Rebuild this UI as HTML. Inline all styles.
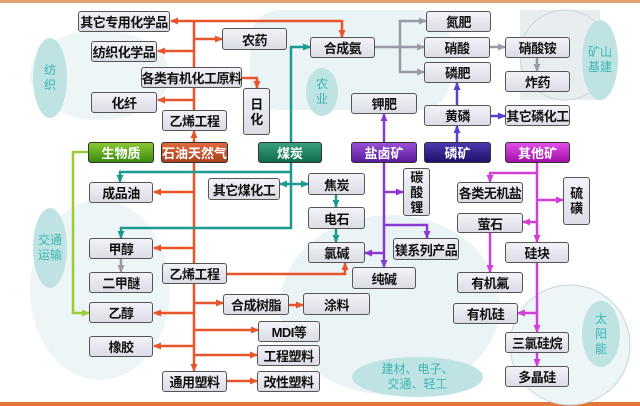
<!DOCTYPE html>
<html><head><meta charset="utf-8"><style>
body{margin:0;width:640px;height:406px;overflow:hidden;background:#fff;font-family:"Liberation Sans","Noto Sans CJK SC",sans-serif;position:relative}
.b{position:absolute;box-sizing:border-box;background:linear-gradient(#f2f2f8,#dcdce6);border:1.5px solid #555;border-radius:3px;font-weight:bold;font-size:13px;color:#111;display:flex;align-items:center;justify-content:center;white-space:nowrap;letter-spacing:-0.5px;z-index:2}
.v{flex-direction:column;line-height:15px}
.c{position:absolute;box-sizing:border-box;border:1.5px solid #333;border-radius:3px;color:#fff;font-weight:bold;font-size:13px;display:flex;align-items:center;justify-content:center;z-index:2}
.e{position:absolute;border-radius:50%;background:#bfe3e3;color:#3cb4b4;font-size:12px;display:flex;align-items:center;justify-content:center;text-align:center;line-height:15px;z-index:1}
svg{position:absolute;left:0;top:0;z-index:1}
</style></head><body>
<svg width="640" height="406">
<defs>
<marker id="o" markerUnits="userSpaceOnUse" markerWidth="8" markerHeight="8" refX="7" refY="4" orient="auto"><path d="M0,0.5L8,4L0,7.5z" fill="#e8552a"/></marker>
<marker id="t" markerUnits="userSpaceOnUse" markerWidth="8" markerHeight="8" refX="7" refY="4" orient="auto"><path d="M0,0.5L8,4L0,7.5z" fill="#1a9a90"/></marker>
<marker id="g" markerUnits="userSpaceOnUse" markerWidth="8" markerHeight="8" refX="7" refY="4" orient="auto"><path d="M0,0.5L8,4L0,7.5z" fill="#9a9aa8"/></marker>
<marker id="p" markerUnits="userSpaceOnUse" markerWidth="8" markerHeight="8" refX="7" refY="4" orient="auto"><path d="M0,0.5L8,4L0,7.5z" fill="#8a3ad0"/></marker>
<marker id="b" markerUnits="userSpaceOnUse" markerWidth="8" markerHeight="8" refX="7" refY="4" orient="auto"><path d="M0,0.5L8,4L0,7.5z" fill="#5a40d0"/></marker>
<marker id="m" markerUnits="userSpaceOnUse" markerWidth="8" markerHeight="8" refX="7" refY="4" orient="auto"><path d="M0,0.5L8,4L0,7.5z" fill="#d040d8"/></marker>
<marker id="l" markerUnits="userSpaceOnUse" markerWidth="8" markerHeight="8" refX="7" refY="4" orient="auto"><path d="M0,0.5L8,4L0,7.5z" fill="#9acd32"/></marker>
</defs>
<rect x="0" y="0" width="640" height="3" fill="#e0a070"/>
<rect x="0" y="402" width="640" height="4" fill="#e07838"/>
<ellipse cx="100" cy="75" rx="70" ry="45" fill="#eef5f6"/>
<rect x="250" y="10" width="200" height="100" rx="30" fill="#eaf3f5"/>
<rect x="520" y="10" width="80" height="90" fill="#e8eef0"/>
<circle cx="565" cy="55" r="45" fill="none" stroke="#c8d4d8"/>
<ellipse cx="100" cy="290" rx="70" ry="90" fill="#eef5f6"/>
<ellipse cx="390" cy="305" rx="110" ry="90" fill="#eaf4f6"/>
<circle cx="570" cy="345" r="60" fill="#eef5f6" stroke="#c8d4d8"/>
<g stroke="#e8552a" stroke-width="2.5" fill="none">
<path d="M194 142V131" marker-end="url(#o)"/>
<path d="M194 110V21"/>
<path d="M194 21H171" marker-end="url(#o)"/>
<path d="M194 21H342V37" marker-end="url(#o)"/>
<path d="M194 39H222" marker-end="url(#o)"/>
<path d="M194 51H158" marker-end="url(#o)"/>
<path d="M194 100H158" marker-end="url(#o)"/>
<path d="M242 78H257V88" marker-end="url(#o)"/>
<path d="M194 163V371" marker-end="url(#o)"/>
<path d="M194 192H154" marker-end="url(#o)"/>
<path d="M194 248H154" marker-end="url(#o)"/>
<path d="M227 274H345V263" marker-end="url(#o)"/>
<path d="M194 303H223" marker-end="url(#o)"/>
<path d="M289 305H303" marker-end="url(#o)"/>
<path d="M194 313H154" marker-end="url(#o)"/>
<path d="M194 330H258" marker-end="url(#o)"/>
<path d="M194 346H154" marker-end="url(#o)"/>
<path d="M194 355H257" marker-end="url(#o)"/>
<path d="M227 381H257" marker-end="url(#o)"/>
</g>
<g stroke="#1a9a90" stroke-width="2.5" fill="none">
<path d="M291 142V47H310" marker-end="url(#t)"/>
<path d="M291 163V228H121V238" marker-end="url(#t)"/>
<path d="M291 172H120V182" marker-end="url(#t)"/>
<path d="M291 184H308" marker-end="url(#t)"/>
<path d="M291 184H280" marker-end="url(#t)"/>
<path d="M336 195V207" marker-end="url(#t)"/>
<path d="M336 229V242" marker-end="url(#t)"/>
</g>
<path d="M88 152H73V313H89" stroke="#9acd32" stroke-width="2.5" fill="none" marker-end="url(#l)"/>
<g stroke="#9a9aa8" stroke-width="2.5" fill="none">
<path d="M375 47H424" marker-end="url(#g)"/>
<path d="M400 47V21H426" marker-end="url(#g)"/>
<path d="M400 47V72H424" marker-end="url(#g)"/>
<path d="M490 47H505" marker-end="url(#g)"/>
<path d="M537 58V71" marker-end="url(#g)"/>
<path d="M121 259V272" marker-end="url(#g)"/>
</g>
<g stroke="#8a3ad0" stroke-width="2.5" fill="none">
<path d="M384 142V114" marker-end="url(#p)"/>
<path d="M384 163V267" marker-end="url(#p)"/>
<path d="M384 192H403" marker-end="url(#p)"/>
<path d="M384 225H427V238" marker-end="url(#p)"/>
<path d="M384 253H365" marker-end="url(#p)"/>
</g>
<g stroke="#5a40d0" stroke-width="2.5" fill="none">
<path d="M457 142V126" marker-end="url(#b)"/>
<path d="M457 105V83" marker-end="url(#b)"/>
<path d="M491 116H505" marker-end="url(#b)"/>
</g>
<g stroke="#d040d8" stroke-width="2.5" fill="none">
<path d="M537 163V242" marker-end="url(#m)"/>
<path d="M537 173H490V182" marker-end="url(#m)"/>
<path d="M537 200H563" marker-end="url(#m)"/>
<path d="M537 222H523" marker-end="url(#m)"/>
<path d="M490 233V272" marker-end="url(#m)"/>
<path d="M537 263V332" marker-end="url(#m)"/>
<path d="M537 313H518" marker-end="url(#m)"/>
<path d="M537 353V366" marker-end="url(#m)"/>
</g>
</svg>
<div class="e" style="left:33px;top:38px;width:34px;height:80px">纺<br>织</div>
<div class="e" style="left:306px;top:68px;width:32px;height:48px">农<br>业</div>
<div class="e" style="left:582px;top:20px;width:36px;height:80px">矿山<br>基建</div>
<div class="e" style="left:33px;top:208px;width:34px;height:80px">交通<br>运输</div>
<div class="e" style="left:582px;top:301px;width:38px;height:66px">太<br>阳<br>能</div>
<div class="e" style="left:352px;top:357px;width:131px;height:40px">建材、电子、<br>交通、轻工</div>

<div class="b" style="left:78px;top:11px;width:92px;height:21px">其它专用化学品</div>
<div class="b" style="left:91px;top:41px;width:66px;height:21px">纺织化学品</div>
<div class="b" style="left:222px;top:28px;width:65px;height:22px">农药</div>
<div class="b" style="left:141px;top:67px;width:101px;height:21px">各类有机化工原料</div>
<div class="b v" style="left:243px;top:88px;width:27px;height:47px">日<br>化</div>
<div class="b" style="left:91px;top:92px;width:66px;height:21px">化纤</div>
<div class="b" style="left:162px;top:110px;width:65px;height:21px">乙烯工程</div>
<div class="b" style="left:310px;top:37px;width:65px;height:21px">合成氨</div>
<div class="b" style="left:426px;top:11px;width:65px;height:21px">氮肥</div>
<div class="b" style="left:424px;top:37px;width:66px;height:21px">硝酸</div>
<div class="b" style="left:424px;top:62px;width:67px;height:21px">磷肥</div>
<div class="b" style="left:505px;top:37px;width:65px;height:21px">硝酸铵</div>
<div class="b" style="left:505px;top:71px;width:65px;height:21px">炸药</div>
<div class="b" style="left:351px;top:93px;width:66px;height:21px">钾肥</div>
<div class="b" style="left:424px;top:105px;width:67px;height:21px">黄磷</div>
<div class="b" style="left:505px;top:105px;width:65px;height:21px">其它磷化工</div>

<div class="c" style="left:88px;top:142px;width:66px;height:21px;background:linear-gradient(#8ac832,#3a8a10)">生物质</div>
<div class="c" style="left:161px;top:142px;width:67px;height:21px;background:linear-gradient(#e06a40,#a8401a)">石油天然气</div>
<div class="c" style="left:258px;top:142px;width:64px;height:21px;background:linear-gradient(#3aa07a,#0e6a4a)">煤炭</div>
<div class="c" style="left:351px;top:142px;width:66px;height:21px;background:linear-gradient(#9a50d8,#5a1a9a)">盐卤矿</div>
<div class="c" style="left:424px;top:142px;width:67px;height:21px;background:linear-gradient(#4a3ab0,#20106a)">磷矿</div>
<div class="c" style="left:505px;top:142px;width:65px;height:21px;background:linear-gradient(#e050e8,#a010a8)">其他矿</div>

<div class="b" style="left:89px;top:182px;width:64px;height:21px">成品油</div>
<div class="b" style="left:208px;top:178px;width:72px;height:22px">其它煤化工</div>
<div class="b" style="left:308px;top:173px;width:57px;height:22px">焦炭</div>
<div class="b v" style="left:403px;top:168px;width:27px;height:48px">碳<br>酸<br>锂</div>
<div class="b" style="left:457px;top:182px;width:66px;height:21px">各类无机盐</div>
<div class="b v" style="left:563px;top:177px;width:27px;height:48px">硫<br>磺</div>
<div class="b" style="left:308px;top:207px;width:57px;height:22px">电石</div>
<div class="b" style="left:457px;top:213px;width:66px;height:20px">萤石</div>
<div class="b" style="left:89px;top:238px;width:64px;height:21px">甲醇</div>
<div class="b" style="left:308px;top:242px;width:57px;height:21px">氯碱</div>
<div class="b" style="left:393px;top:238px;width:66px;height:22px">镁系列产品</div>
<div class="b" style="left:505px;top:242px;width:64px;height:21px">硅块</div>
<div class="b" style="left:162px;top:263px;width:65px;height:21px">乙烯工程</div>
<div class="b" style="left:352px;top:267px;width:64px;height:22px">纯碱</div>
<div class="b" style="left:89px;top:272px;width:64px;height:21px">二甲醚</div>
<div class="b" style="left:457px;top:272px;width:66px;height:21px">有机氟</div>
<div class="b" style="left:223px;top:294px;width:66px;height:21px">合成树脂</div>
<div class="b" style="left:303px;top:293px;width:67px;height:22px">涂料</div>
<div class="b" style="left:89px;top:302px;width:64px;height:21px">乙醇</div>
<div class="b" style="left:453px;top:303px;width:65px;height:21px">有机硅</div>
<div class="b" style="left:258px;top:321px;width:62px;height:21px">MDI等</div>
<div class="b" style="left:505px;top:332px;width:64px;height:21px">三氯硅烷</div>
<div class="b" style="left:89px;top:336px;width:64px;height:21px">橡胶</div>
<div class="b" style="left:257px;top:345px;width:63px;height:21px">工程塑料</div>
<div class="b" style="left:505px;top:366px;width:64px;height:21px">多晶硅</div>
<div class="b" style="left:162px;top:371px;width:65px;height:21px">通用塑料</div>
<div class="b" style="left:257px;top:371px;width:63px;height:21px">改性塑料</div>
</body></html>
